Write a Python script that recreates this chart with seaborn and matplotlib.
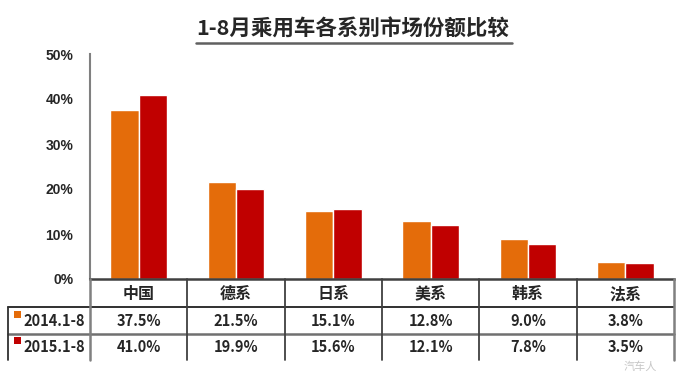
import matplotlib
matplotlib.use('Agg')
import matplotlib.pyplot as plt
from matplotlib.lines import Line2D
from matplotlib.patches import Rectangle
import seaborn as sns
import pandas as pd

categories = ['中国', '德系', '日系', '美系', '韩系', '法系']
share_2014 = [37.5, 21.5, 15.1, 12.8, 9.0, 3.8]
share_2015 = [41.0, 19.9, 15.6, 12.1, 7.8, 3.5]
series_names = ['2014.1-8', '2015.1-8']
yticks = [0, 10, 20, 30, 40, 50]
colors = ['#E46C0A', '#C00000']

sns.set_style('white')
plt.rcParams['font.family'] = ['Noto Sans CJK SC', 'DejaVu Sans']

W, H = 686, 375
fig = plt.figure(figsize=(W / 100, H / 100), dpi=100)

def fx(px):
    return px / W

def fy(py):
    return 1 - py / H

# plot area in pixels: x 90..674, y 54..279
x0, x1, ytop, ybot = 90, 674, 54, 279
ax = fig.add_axes([fx(x0), fy(ybot), fx(x1 - x0), (ybot - ytop) / H])

df = pd.DataFrame({
    'cat': categories * 2,
    'share': share_2014 + share_2015,
    'year': [series_names[0]] * len(categories) + [series_names[1]] * len(categories),
})
sns.barplot(data=df, x='cat', y='share', hue='year', palette=colors,
            width=0.58, saturation=1, ax=ax, legend=False, errorbar=None)

ax.set_xlim(-0.5, len(categories) - 0.5)
ax.set_ylim(0, 50)
ax.set_yticks(yticks)
ax.set_yticklabels([f'{v}%' for v in yticks], fontsize=10, fontweight='bold',
                   family=['Liberation Sans', 'DejaVu Sans'])
ax.set_xticks([])
ax.set_xlabel('')
ax.set_ylabel('')
for s in ['top', 'right']:
    ax.spines[s].set_visible(False)
ax.spines['left'].set_color('#808080')
ax.spines['left'].set_linewidth(1.5)
ax.spines['bottom'].set_color('#404040')
ax.spines['bottom'].set_linewidth(1.8)
ax.tick_params(axis='y', direction='out', length=4, width=1.2, color='#808080', pad=8)

# title with underline
fig.text(fx(353), fy(29), '1-8月乘用车各系别市场份额比较', ha='center', va='center',
         fontsize=15.5, fontweight='bold')
fig.add_artist(Line2D([fx(196), fx(512)], [fy(43), fy(43)], transform=fig.transFigure,
                      color='#606060', lw=1.8))

# data table below the axis
colw = (x1 - x0) / len(categories)
r0, r1, r2, r3 = 279, 307, 334, 360

def hline(py, xa, xb, c='#202020', lw=1.3):
    fig.add_artist(Line2D([fx(xa), fx(xb)], [fy(py), fy(py)], transform=fig.transFigure, color=c, lw=lw))

def vline(px, ya, yb, c='#303030', lw=1.3):
    fig.add_artist(Line2D([fx(px), fx(px)], [fy(ya), fy(yb)], transform=fig.transFigure, color=c, lw=lw))

hline(r1, 8, x1)
hline(r2, 8, x1, c='#707070', lw=1.8)
vline(8, r1, r3)
vline(x0, r0, r3, c='#808080', lw=1.8)
for i in range(1, len(categories) + 1):
    vline(x0 + i * colw, r0, r3, c='#404040' if i < len(categories) else '#808080',
          lw=1.3 if i < len(categories) else 1.8)

for i, cat in enumerate(categories):
    cx = x0 + (i + 0.5) * colw
    fig.text(fx(cx), fy(294), cat, ha='center', va='center', fontsize=11.5, fontweight='bold')
    fig.text(fx(cx), fy(321), f'{share_2014[i]:.1f}%', ha='center', va='center',
             fontsize=10.5, fontweight='bold')
    fig.text(fx(cx), fy(347), f'{share_2015[i]:.1f}%', ha='center', va='center',
             fontsize=10.5, fontweight='bold')

for j, (name, c, cy) in enumerate(zip(series_names, colors, [321, 347])):
    fig.add_artist(Rectangle((fx(14), fy(cy - 3)), 7 / W, 7 / H, transform=fig.transFigure,
                             color=c, lw=0))
    fig.text(fx(23), fy(cy), name, ha='left', va='center', fontsize=10.5, fontweight='bold')

# faint watermark (kept clear of the table values)
fig.text(fx(640), fy(367), '汽车人', ha='center', va='center', fontsize=8,
         color='#b0b0b0', alpha=0.7)

fig.savefig('out.png', dpi=100)
